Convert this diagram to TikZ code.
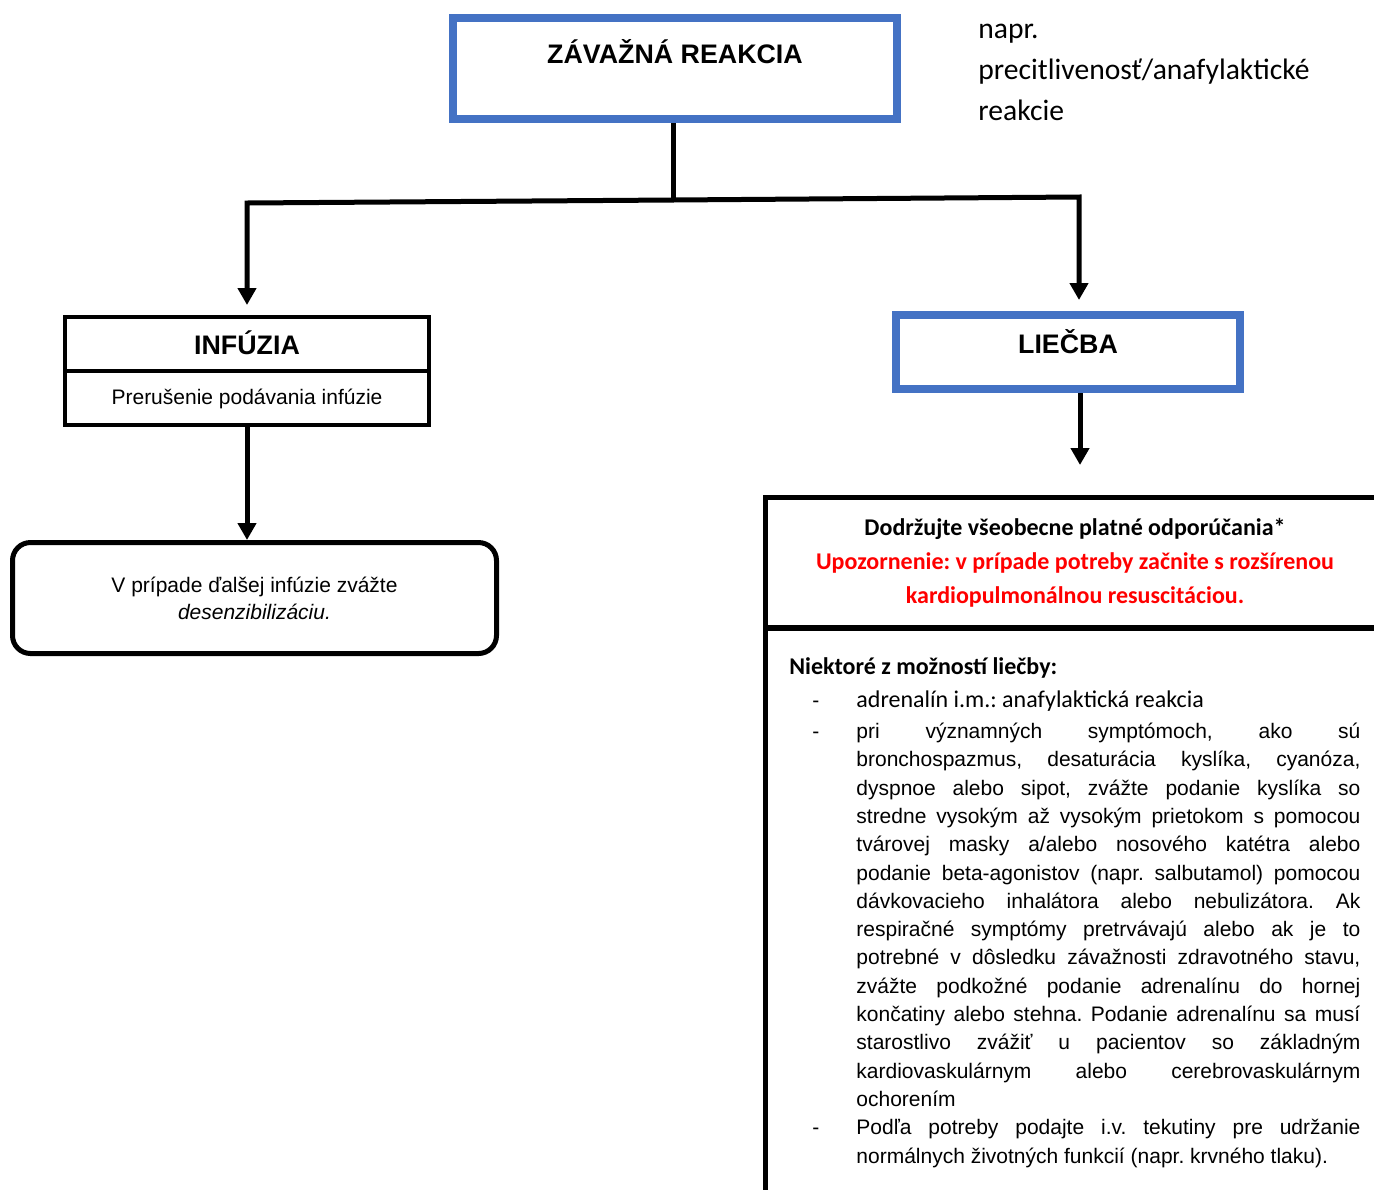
\documentclass[tikz,border=0pt]{standalone}
\usepackage{fontspec}
\setmainfont{Liberation Sans}
\newfontfamily\calibri{Carlito}
\usetikzlibrary{arrows.meta,positioning}
\definecolor{wordblue}{RGB}{68,114,196}
\definecolor{upozor}{RGB}{255,0,0}
\frenchspacing
\newcommand{\jriadok}[1]{\makebox[252pt][s]{#1}}
\newcommand{\pomlcka}{\makebox[22pt][l]{-}}
\newcommand{\odsad}{\hspace*{22pt}}

\begin{document}
\begin{tikzpicture}[x=0.5pt, y=-0.5pt,
    modrybox/.style={draw=wordblue, line width=4pt, font=\bfseries\fontsize{13.4}{16}\selectfont},
    ciernybox/.style={draw, line width=2pt, outer sep=0pt, inner sep=0pt, minimum width=182pt, minimum height=27pt},
    ramec/.style={draw, line width=2.75pt, outer sep=0pt, minimum width=309.5pt},
    spoj/.style={line width=2.5pt},
    sipka/.style={spoj, -{Triangle[width=9pt,length=8.5pt]}},
  ]
  \clip (0,0) rectangle (1374,1189);

  % Top box and note
  \node[modrybox, minimum width=222pt, minimum height=50.5pt, text height=10pt, text depth=15.5pt] (zavazna) at (675,68.5) {ZÁVAŽNÁ REAKCIA};
  \node[anchor=base west, inner sep=0pt, align=left, font=\calibri\fontsize{14.8}{20.5}\selectfont] (napr) at (978,120) {napr.\\precitlivenosť/anafylaktické\\reakcie};

  % Branches
  \coordinate (rozvetvenie) at (673,200);
  \coordinate (vlavo) at (247,203);
  \coordinate (vpravo) at (1079,197);

  % Left side
  \node[ciernybox, font=\bfseries\fontsize{13.4}{16}\selectfont, text height=10pt, text depth=0pt] (infuzia) at (247,344) {INFÚZIA};
  \node[ciernybox, below=0pt of infuzia, font=\fontsize{10.5}{13}\selectfont, text height=8pt, text depth=2pt] (prerusenie) {Prerušenie podávania infúzie};
  \node[draw, line width=2.5pt, rounded corners=9pt, minimum width=242pt, minimum height=55.5pt, align=center, font=\fontsize{10.5}{13.5}\selectfont] (dalsia) at (254.5,598) {V prípade ďalšej infúzie zvážte\\\textit{desenzibilizáciu.}};

  % Right side
  \node[modrybox, minimum width=172pt, minimum height=37pt, text height=10pt, text depth=9pt] (liecba) at (1068,352) {LIEČBA};
  \coordinate (podliecbou) at (1080,465);
  \node[ramec, minimum height=65.25pt, align=center, font=\calibri\bfseries\fontsize{12}{17}\selectfont] (odporucania) at (1075,562.75) {Dodržujte všeobecne platné odporúčania*\\\textcolor{upozor}{Upozornenie: v prípade potreby začnite s rozšírenou}\\\textcolor{upozor}{kardiopulmonálnou resuscitáciou.}};
  \node[ramec, minimum height=311pt, below=0pt of odporucania] (moznosti) {};
  \node[anchor=base west, inner sep=0pt, font=\calibri\bfseries\fontsize{12}{14}\selectfont] (nadpis) at (789,674) {Niektoré z možností liečby:};
  \node[anchor=base west, inner sep=0pt, align=left, font=\fontsize{10.5}{14.15}\selectfont] (zoznam) at (812,1163) {%
    \pomlcka{\calibri\fontsize{12}{14}\selectfont adrenalín i.m.: anafylaktická reakcia}\\[1.5pt]
    \pomlcka\jriadok{pri významných symptómoch, ako sú}\\
    \odsad\jriadok{bronchospazmus, desaturácia kyslíka, cyanóza,}\\
    \odsad\jriadok{dyspnoe alebo sipot, zvážte podanie kyslíka so}\\
    \odsad\jriadok{stredne vysokým až vysokým prietokom s pomocou}\\
    \odsad\jriadok{tvárovej masky a/alebo nosového katétra alebo}\\
    \odsad\jriadok{podanie beta-agonistov (napr. salbutamol) pomocou}\\
    \odsad\jriadok{dávkovacieho inhalátora alebo nebulizátora. Ak}\\
    \odsad\jriadok{respiračné symptómy pretrvávajú alebo ak je to}\\
    \odsad\jriadok{potrebné v dôsledku závažnosti zdravotného stavu,}\\
    \odsad\jriadok{zvážte podkožné podanie adrenalínu do hornej}\\
    \odsad\jriadok{končatiny alebo stehna. Podanie adrenalínu sa musí}\\
    \odsad\jriadok{starostlivo zvážiť u pacientov so základným}\\
    \odsad\jriadok{kardiovaskulárnym alebo cerebrovaskulárnym}\\
    \odsad ochorením\\
    \pomlcka\jriadok{Podľa potreby podajte i.v. tekutiny pre udržanie}\\
    \odsad normálnych životných funkcií (napr. krvného tlaku).};

  % Connectors
  \draw[spoj] (zavazna.south -| rozvetvenie) -- (rozvetvenie);
  \draw[sipka, shorten >=6pt] (rozvetvenie) -- (vlavo) -- (vlavo |- infuzia.north);
  \draw[sipka, shorten >=5.5pt] (rozvetvenie) -- (vpravo) -- (vpravo |- liecba.north);
  \draw[sipka] (prerusenie.south) -- (prerusenie.south |- dalsia.north);
  \draw[sipka] (liecba.south -| podliecbou) -- (podliecbou);
\end{tikzpicture}
\end{document}
